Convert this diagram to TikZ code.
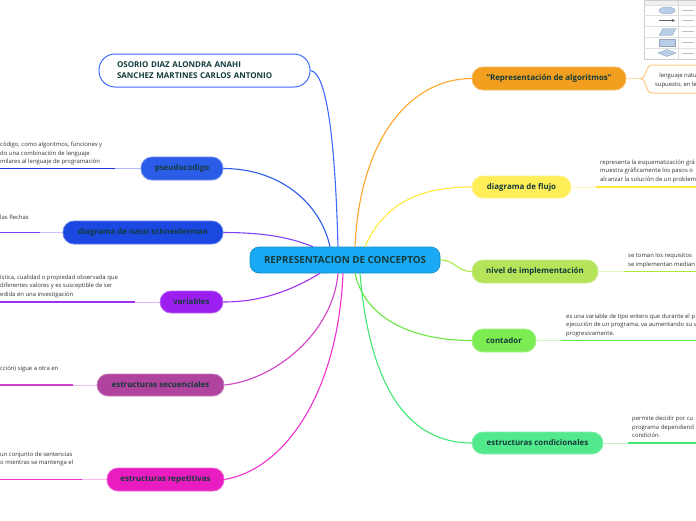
\documentclass[tikz,border=0pt]{standalone}
\usepackage{fontspec}
\setmainfont{Open Sans}
\usepackage{xcolor}
\usepackage{tikz}
\usetikzlibrary{shapes.geometric}
\usetikzlibrary{arrows}

\definecolor{tinta}{HTML}{143A3A}
\definecolor{cCentro}{HTML}{1AAAF5}
\definecolor{cAutores}{HTML}{3D6BFF}
\definecolor{cPseudo}{HTML}{2B5CE8}
\definecolor{cNassi}{HTML}{1A48E0}
\definecolor{cVariables}{HTML}{9B1FF0}
\definecolor{cSecuencial}{HTML}{B0439E}
\definecolor{cRepetitiva}{HTML}{E81CC0}
\definecolor{cAlgoritmo}{HTML}{F29E1F}
\definecolor{cFlujo}{HTML}{FFEE58}
\definecolor{cNivel}{HTML}{B5E35A}
\definecolor{cContador}{HTML}{7DEB52}
\definecolor{cCondicion}{HTML}{52E88C}
\definecolor{lPseudo}{HTML}{1F35E0}
\definecolor{lNassi}{HTML}{7A45F0}
\definecolor{lVariables}{HTML}{A030F0}
\definecolor{lSecuencial}{HTML}{D040C8}
\definecolor{lRepetitiva}{HTML}{F030D0}
\definecolor{lAlgoritmo}{HTML}{FFA52A}
\definecolor{lFlujo}{HTML}{FFEA3A}
\definecolor{lNivel}{HTML}{A8EA40}
\definecolor{lContador}{HTML}{66E840}
\definecolor{lCondicion}{HTML}{40E870}
\definecolor{azulForma}{HTML}{B8CDE8}

\tikzset{
  rama/.style={draw=#1!70!white, fill=#1, line width=0.8pt, rounded corners=11pt,
    minimum height=23pt, inner sep=0pt, text=tinta,
    font=\fontsize{7.9}{9}\selectfont\bfseries},
  conector/.style={draw=#1, line width=1.1pt},
  guia/.style={draw=#1!35!white, line width=1pt},
  raya/.style={draw=#1, line width=1.6pt},
  nota/.style={inner sep=0pt, align=left, text=black!80,
    font=\fontsize{5.9}{8.5}\selectfont},
}

\begin{document}
\begin{tikzpicture}[x=1pt, y=-1pt]
        \useasboundingbox (0,0) rectangle (696,520);

        % nodo central
        \node[draw=cCentro!80!black, fill=cCentro, line width=0.6pt, rounded corners=9pt,
          minimum width=190pt, minimum height=26pt, inner sep=0pt, text=tinta,
          font=\fontsize{9.8}{11}\selectfont\bfseries] (centro) at (345,260)
          {REPRESENTACION DE CONCEPTOS};

        % autores
        \node[draw=cAutores, fill=white, line width=1pt, rounded corners=16pt,
          text width=175pt, inner xsep=18pt, minimum height=33pt, align=left,
          text=tinta, font=\fontsize{8}{11}\selectfont\bfseries] (autores) at (204.5,70.5)
          {OSORIO DIAZ ALONDRA ANAHI\\SANCHEZ MARTINES CARLOS ANTONIO};

        % ramas izquierdas
        \node[rama=cPseudo, minimum width=82pt] (pseudo) at (182,168.5) {pseudocodigo};
        \node[rama=cNassi, minimum width=160pt] (nassi) at (143,232.5) {diagrama de nassi schneiderman};
        \node[rama=cVariables, minimum width=63pt, minimum height=22pt] (variables) at (191.5,302) {variables};
        \node[rama=cSecuencial, minimum width=127pt, minimum height=22pt] (secuencial) at (160.5,385) {estructuras secuenciales};
        \node[rama=cRepetitiva, minimum width=117pt] (repetitiva) at (165.5,479.5) {estructuras repetitivas};

        % ramas derechas
        \node[rama=cAlgoritmo, minimum width=154pt] (algoritmo) at (549,78.5) {"Representación de algoritmos"};
        \node[rama=cFlujo, minimum width=99pt, minimum height=22pt] (flujo) at (521.5,187) {diagrama de flujo};
        \node[rama=cNivel, minimum width=126pt] (nivel) at (535,271.5) {nivel de implementación};
        \node[rama=cContador, minimum width=64pt] (contador) at (504,340.5) {contador};
        \node[rama=cCondicion, minimum width=131pt, minimum height=22pt] (condicion) at (537.5,443) {estructuras condicionales};

        % conectores al centro
        \draw[conector=cAutores] (autores.east) .. controls +(16,2) and +(-3,-110) .. ([xshift=-7pt]centro.north);
        \draw[conector=cPseudo] (pseudo.east) .. controls +(55,0) and +(-10,-45) .. ([xshift=-15pt]centro.north);
        \draw[conector=lNassi] (nassi.east) .. controls +(45,0) and +(-20,-8) .. ([xshift=-32pt]centro.north);
        \draw[conector=lVariables] (variables.east) .. controls +(45,0) and +(-20,12) .. ([xshift=-25pt]centro.south);
        \draw[conector=lSecuencial] (secuencial.east) .. controls +(50,-5) and +(-5,60) .. ([xshift=-7pt]centro.south);
        \draw[conector=lRepetitiva] (repetitiva.east) .. controls +(60,-10) and +(-5,120) .. ([xshift=-2pt]centro.south);
        \draw[conector=lAlgoritmo] ([xshift=10pt]centro.north) .. controls +(5,-110) and +(-60,0) .. (algoritmo.west);
        \draw[conector=lFlujo] ([xshift=20pt]centro.north) .. controls +(20,-45) and +(-50,0) .. (flujo.west);
        \draw[conector=lNivel] (centro.east) .. controls +(15,0) and +(-15,0) .. (nivel.west);
        \draw[conector=lContador] ([xshift=10pt]centro.south) .. controls +(10,45) and +(-60,0) .. (contador.west);
        \draw[conector=lCondicion] ([xshift=15pt]centro.south) .. controls +(10,120) and +(-60,0) .. (condicion.west);

        % lineas de las notas
        \coordinate (pPseudo) at (115,168.5);
        \coordinate (fPseudo) at (0,168.5);
        \coordinate (pNassi) at (40,232.5);
        \coordinate (fNassi) at (0,232.5);
        \coordinate (pVariables) at (135,302);
        \coordinate (fVariables) at (0,302);
        \coordinate (pSecuencial) at (73,385);
        \coordinate (fSecuencial) at (0,385);
        \coordinate (pRepetitiva) at (82,479.5);
        \coordinate (fRepetitiva) at (0,479.5);
        \coordinate (pFlujo) at (596,187);
        \coordinate (fFlujo) at (696,187);
        \coordinate (pNivel) at (624,271.5);
        \coordinate (fNivel) at (696,271.5);
        \coordinate (pContador) at (561,340.5);
        \coordinate (fContador) at (696,340.5);
        \coordinate (pCondicion) at (628,443);
        \coordinate (fCondicion) at (696,443);
        \coordinate (pAlgoritmo) at (640,78.5);

        \draw[guia=lPseudo] (pseudo.west) -- (pPseudo);
        \draw[raya=lPseudo] (pPseudo) -- (fPseudo);
        \draw[guia=lNassi] (nassi.west) -- (pNassi);
        \draw[raya=lNassi] (pNassi) -- (fNassi);
        \draw[guia=lVariables] (variables.west) -- (pVariables);
        \draw[raya=lVariables] (pVariables) -- (fVariables);
        \draw[guia=lSecuencial] (secuencial.west) -- (pSecuencial);
        \draw[raya=lSecuencial] (pSecuencial) -- (fSecuencial);
        \draw[guia=lRepetitiva] (repetitiva.west) -- (pRepetitiva);
        \draw[raya=lRepetitiva] (pRepetitiva) -- (fRepetitiva);
        \draw[guia=lFlujo] (flujo.east) -- (pFlujo);
        \draw[raya=lFlujo] (pFlujo) -- (fFlujo);
        \draw[guia=lNivel] (nivel.east) -- (pNivel);
        \draw[raya=lNivel] (pNivel) -- (fNivel);
        \draw[guia=lContador] (contador.east) -- (pContador);
        \draw[raya=lContador] (pContador) -- (fContador);
        \draw[guia=lCondicion] (condicion.east) -- (pCondicion);
        \draw[raya=lCondicion] (pCondicion) -- (fCondicion);
        \draw[guia=lAlgoritmo] (algoritmo.east) -- (pAlgoritmo);

        % caja de la nota de algoritmos
        \draw[lAlgoritmo!60!white, line width=1pt] (700,65) -- (652,65)
          .. controls (645,65) and (647,78.5) .. (pAlgoritmo)
          .. controls (647,78.5) and (645,93) .. (652,93) -- (700,93);

        % textos de las notas
        \node[nota, anchor=south west] (tPseudo) at (0,165.5)
          {código, como algoritmos, funciones y\\do una combinación de lenguaje\\milares al lenguaje de programación};
        \node[nota, anchor=south west] (tNassi) at (0,219.5) {las flechas};
        \node[nota, anchor=south west] (tVariables) at (0,298)
          {ística, cualidad o propiedad observada que\\diferentes valores y es susceptible de ser\\edida en una investigación};
        \node[nota, anchor=south west] (tSecuencial) at (0,372.5) {cción) sigue a otra en};
        \node[nota, anchor=south west] (tRepetitiva) at (0,466.5)
          {un conjunto de sentencias\\o mientras se mantenga el};
        \node[nota, anchor=north east, align=right] (tAlgoritmo) at (697,73)
          {lenguaje natu\\supuesto, en le};
        \node[nota, anchor=south west] (tFlujo) at (600,183)
          {representa la esquematización grá\\muestra gráficamente los pasos o\\alcanzar la solución de un problem};
        \node[nota, anchor=south west] (tNivel) at (628,268)
          {se toman los requisitos\\se implementan median};
        \node[nota, anchor=south west] (tContador) at (566,337)
          {es una variable de tipo entero que durante el p\\ejecución de un programa, va aumentando su v\\progresivamente.};
        \node[nota, anchor=south west] (tCondicion) at (632,438)
          {permite decidir por cu\\programa dependiend\\condición.};

        % imagen de simbolos (arriba a la derecha)
        \fill[black!6] (644,0) rectangle (700,5);
        \draw[black!20, line width=0.4pt] (644,0) rectangle (700,59);
        \draw[black!15, line width=0.4pt] (678,0) -- (678,59);
        \foreach \fila in {5,15,26,37,48}
          \draw[black!12, line width=0.3pt] (644,\fila) -- (700,\fila);
        \filldraw[fill=azulForma, draw=azulForma!80!black] (667,10.5) ellipse (8pt and 3.5pt);
        \draw[black!60, line width=0.5pt, -stealth] (659,20.5) -- (675,20.5);
        \filldraw[fill=azulForma, draw=azulForma!80!black] (659,35.5) -- (663,28.5) -- (676,28.5) -- (672,35.5) -- cycle;
        \filldraw[fill=azulForma, draw=azulForma!80!black] (659,39) rectangle (675,46.5);
        \filldraw[fill=azulForma, draw=azulForma!80!black] (658,53) -- (667,49.5) -- (676,53) -- (667,56.5) -- cycle;
        \foreach \fila in {10.5,20.5,31.5,42.5,53}
          \draw[black!25, line width=0.6pt] (682,\fila) -- (694,\fila);
\end{tikzpicture}
\end{document}
